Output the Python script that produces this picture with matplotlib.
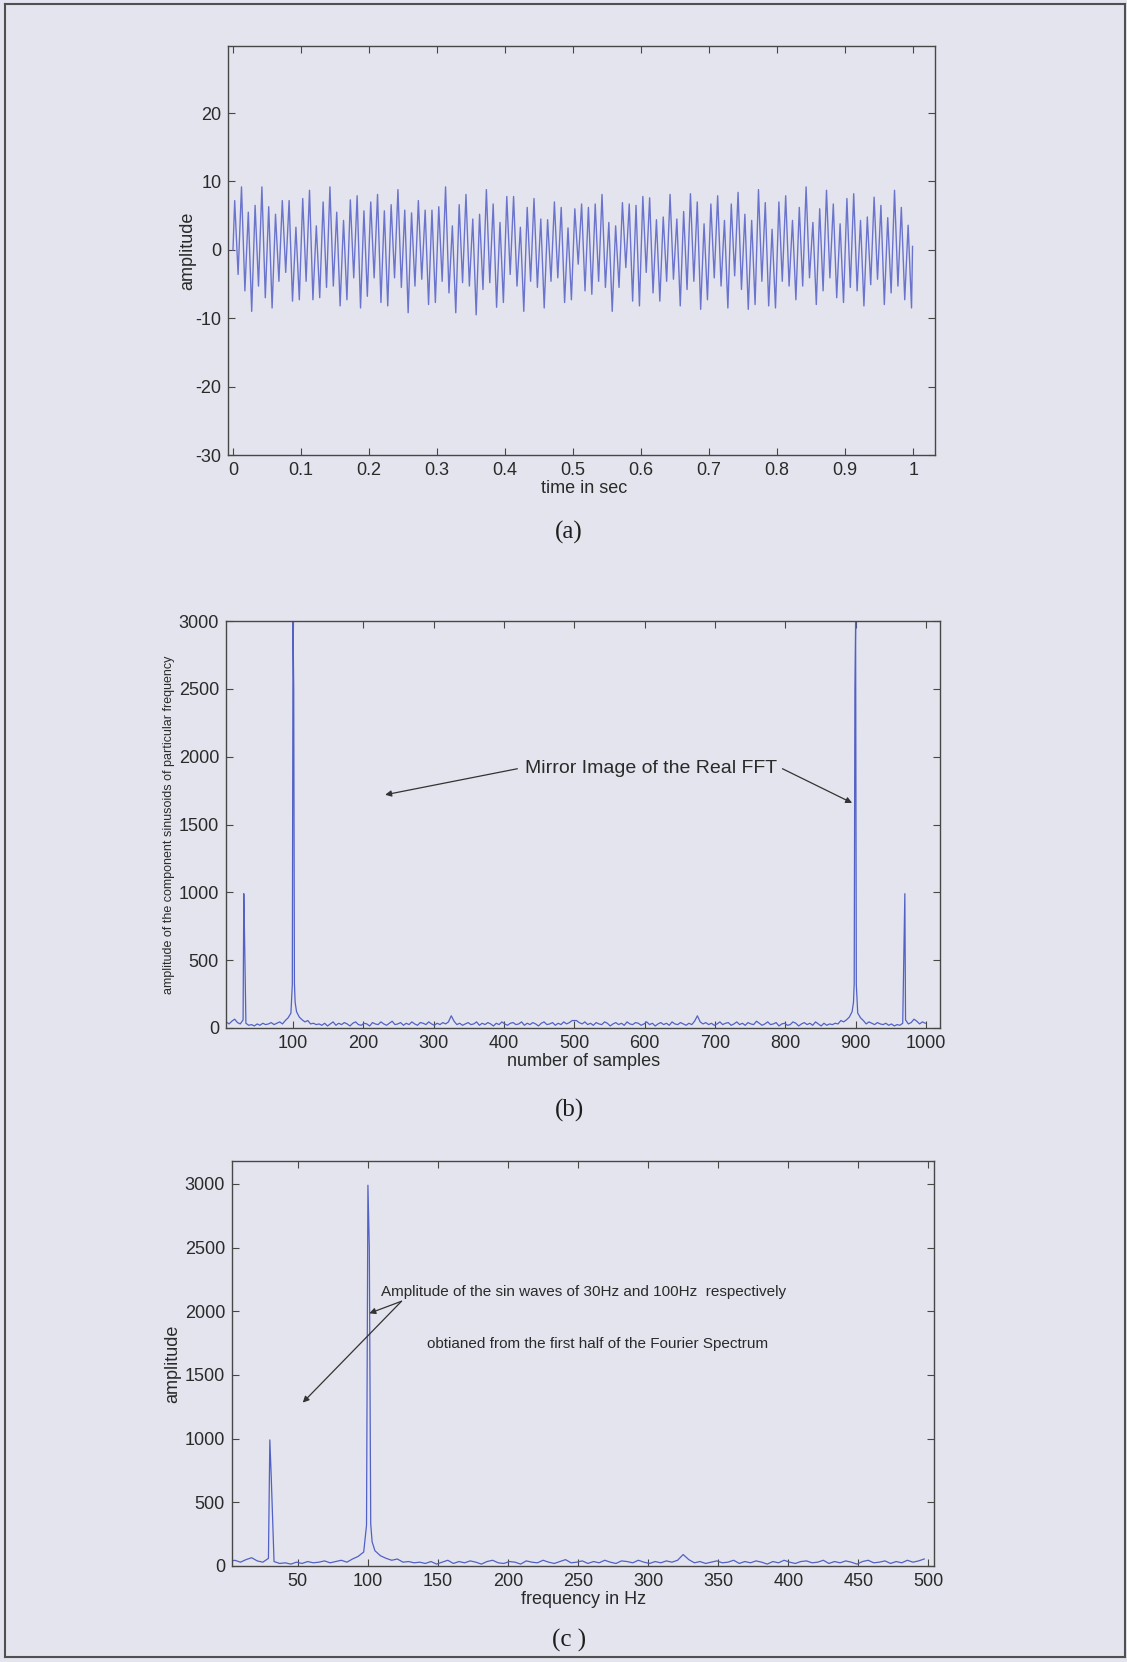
import numpy as np
import matplotlib.pyplot as plt
from matplotlib.lines import Line2D

plt.rcParams['font.family'] = ['Liberation Sans', 'DejaVu Sans']
plt.rcParams['axes.unicode_minus'] = False

# (a) time signal: peak and trough of each 10 ms cycle (100 cycles in 1 s)
peaks = [7.2, 9.2, 5.5, 6.5, 9.2, 6.3, 5.2, 7.2, 7.2, 3.3, 7.5, 8.7, 3.5, 7.0, 9.2, 5.5, 4.3, 7.3,
         7.9, 5.7, 7.0, 8.1, 5.7, 6.6, 8.8, 5.8, 5.4, 7.2, 5.8, 5.8, 6.3, 9.2, 3.5, 6.6, 8.1, 4.5,
         5.2, 8.8, 6.7, 4.0, 7.8, 7.8, 3.3, 6.2, 7.5, 4.5, 4.4, 7.0, 6.2, 3.2, 6.0, 6.7, 6.2, 6.7,
         8.1, 4.0, 3.5, 6.9, 6.7, 6.5, 7.8, 7.6, 4.4, 4.8, 8.1, 4.5, 5.6, 8.2, 7.0, 3.8, 6.7, 7.9,
         4.3, 6.7, 8.4, 5.2, 4.3, 8.8, 6.9, 3.0, 7.0, 7.9, 4.3, 6.2, 9.2, 4.0, 6.0, 8.7, 6.7, 3.8,
         7.5, 8.2, 4.3, 4.8, 7.7, 6.5, 4.7, 8.7, 6.2, 3.6]
troughs = [-3.6, -6.0, -9.0, -5.3, -7.0, -8.5, -4.6, -3.3, -7.5, -7.3, -4.6, -7.3, -7.0, -5.5, -5.3,
           -8.2, -7.3, -4.1, -8.5, -6.8, -4.1, -7.7, -8.2, -4.1, -5.5, -9.2, -5.3, -4.3, -8.0, -7.7,
           -4.6, -6.3, -9.2, -4.8, -5.3, -9.5, -5.8, -4.8, -8.4, -7.7, -3.6, -5.3, -9.0, -4.6, -5.5,
           -8.5, -4.6, -4.1, -7.7, -7.3, -2.1, -6.0, -6.5, -4.6, -5.5, -9.0, -5.5, -2.6, -7.5, -8.2,
           -3.3, -6.3, -7.5, -4.6, -4.3, -8.2, -5.8, -4.6, -8.7, -7.3, -4.1, -5.3, -8.5, -3.8, -5.8,
           -8.7, -8.0, -4.6, -8.2, -8.5, -4.6, -5.3, -7.3, -5.3, -4.1, -8.0, -6.0, -4.1, -7.0, -7.7,
           -5.5, -6.0, -8.2, -5.1, -4.3, -8.0, -6.3, -5.3, -7.3, -8.5]
end_value = 0.5

# one-sided spectrum: noise floor every 4 Hz plus the two peaks
noise_freq = np.arange(1, 500, 4)
noise_amp = [35, 45, 30, 50, 65, 40, 30, 60, 35, 20, 25, 15, 30, 20, 35, 25, 30, 40, 25, 35,
             45, 30, 55, 75, 110, 2500, 120, 80, 60, 45, 55, 30, 35, 25, 30, 20, 35, 15, 30, 45,
             20, 35, 25, 40, 30, 15, 35, 45, 25, 20, 35, 30, 15, 40, 30, 25, 45, 30, 20, 35,
             50, 25, 30, 40, 20, 35, 25, 45, 30, 20, 40, 35, 25, 45, 30, 20, 35, 25, 40, 30,
             45, 90, 50, 25, 35, 20, 30, 40, 25, 30, 45, 20, 35, 25, 40, 30, 15, 35, 25, 45,
             30, 20, 35, 40, 25, 30, 45, 20, 35, 25, 40, 30, 15, 35, 45, 25, 30, 40, 20, 35,
             25, 45, 30, 40, 55]
peak_freq = [30, 31, 99, 100, 102, 103]
peak_amp = [990, 700, 320, 2990, 330, 190]

N = 1000

t_peak = 0.0025 + 0.01 * np.arange(len(peaks))
t_trough = 0.0075 + 0.01 * np.arange(len(troughs))
t = np.concatenate([[0.0], np.column_stack([t_peak, t_trough]).ravel(), [0.999]])
sig = np.concatenate([[0.0], np.column_stack([peaks, troughs]).ravel(), [end_value]])

freq = np.concatenate([noise_freq, peak_freq])
amp = np.concatenate([noise_amp, peak_amp])
order = np.argsort(freq)
freq, amp = freq[order], amp[order]
# full spectrum = first half followed by its mirror image
samples = np.concatenate([freq, N - freq[::-1]])
full_amp = np.concatenate([amp, amp[::-1]])

bg = '#e4e4ee'
line_col = '#5161c6'
txt = '#2a2a2a'
W, H = 1127, 1662

fig = plt.figure(figsize=(W / 100, H / 100), dpi=100, facecolor=bg)


def px_axes(left, top, right, bottom):
    ax = fig.add_axes([left / W, 1 - bottom / H, (right - left) / W, (bottom - top) / H])
    ax.set_facecolor('none')
    for s in ax.spines.values():
        s.set_color('#474747')
        s.set_linewidth(1.0)
    ax.tick_params(direction='in', top=True, right=True, length=5, width=0.8,
                   color='#474747', labelcolor=txt, labelsize=13, pad=5)
    return ax


# (a)
ax1 = px_axes(228.5, 46, 935, 455)
ax1.plot(t, sig, color='#6b74cc', lw=1.0)
ax1.set_xlim(-0.0066, 1.032)
ax1.set_ylim(-30, 29.8)
ax1.set_xticks(np.arange(0, 1.01, 0.1))
ax1.set_xticklabels(['0', '0.1', '0.2', '0.3', '0.4', '0.5', '0.6', '0.7', '0.8', '0.9', '1'])
ax1.set_yticks([-30, -20, -10, 0, 10, 20])
ax1.set_xlabel('time in sec', fontsize=13, color=txt)
ax1.set_ylabel('amplitude', fontsize=13, color=txt)
ax1.xaxis.set_label_coords(0.503, -0.061)
ax1.yaxis.set_label_coords(-0.046, 0.5)

# (b)
ax2 = px_axes(226, 621, 940, 1028)
ax2.plot(samples, full_amp, color=line_col, lw=0.9)
ax2.set_xlim(4.7, 1020)
ax2.set_ylim(0, 3000)
ax2.set_xticks(np.arange(100, 1001, 100))
ax2.set_yticks(np.arange(0, 3001, 500))
ax2.set_xlabel('number of samples', fontsize=13, color=txt)
ax2.set_ylabel('amplitude of the component sinusoids of particular frequency', fontsize=9, color=txt)
ax2.xaxis.set_label_coords(0.501, -0.0614)
ax2.yaxis.set_label_coords(-0.0714, 0.5)
arrow = dict(arrowstyle='-|>', color='#333333', lw=0.9, mutation_scale=9, shrinkA=0, shrinkB=0)
ax2.text(430, 1911, 'Mirror Image of the Real FFT', fontsize=14, color=txt, va='center', ha='left')
ax2.annotate('', xy=(231, 1719), xytext=(419, 1911), arrowprops=arrow)
ax2.annotate('', xy=(895, 1659), xytext=(796, 1911), arrowprops=arrow)

# (c)
ax3 = px_axes(232, 1161, 934, 1566)
ax3.plot(freq, amp, color=line_col, lw=0.9)
ax3.set_xlim(3, 504)
ax3.set_ylim(0, 3180)
ax3.set_xticks(np.arange(50, 501, 50))
ax3.set_yticks(np.arange(0, 3001, 500))
ax3.set_xlabel('frequency in Hz', fontsize=13, color=txt)
ax3.set_ylabel('amplitude', fontsize=13, color=txt)
ax3.xaxis.set_label_coords(0.501, -0.0617)
ax3.yaxis.set_label_coords(-0.0726, 0.5)
ax3.text(109, 2150, 'Amplitude of the sin waves of 30Hz and 100Hz  respectively',
         fontsize=11, color=txt, va='center', ha='left')
ax3.text(142, 1740, 'obtianed from the first half of the Fourier Spectrum',
         fontsize=11, color=txt, va='center', ha='left')
ax3.annotate('', xy=(101, 1984), xytext=(124, 2079), arrowprops=arrow)
ax3.annotate('', xy=(53.5, 1283), xytext=(124, 2079), arrowprops=arrow)

# panel captions
for label, y in [('(a)', 532), ('(b)', 1110), ('(c )', 1640)]:
    fig.text(569 / W, 1 - y / H, label, fontsize=18, family='Liberation Serif',
             color='#1e1e1e', ha='center', va='center')

# scanned page border
border = dict(color='#505050', lw=1.5, transform=fig.transFigure)
fig.add_artist(Line2D([5 / W, 5 / W], [1 - 4 / H, 1 - 1657 / H], **border))
fig.add_artist(Line2D([5 / W, 1125 / W], [1 - 4 / H, 1 - 4 / H], **border))
fig.add_artist(Line2D([5 / W, 1125 / W], [1 - 1657 / H, 1 - 1657 / H], **border))
fig.add_artist(Line2D([1125 / W, 1125 / W], [1 - 4 / H, 1 - 1657 / H], **border))

fig.savefig('out.png', dpi=100, facecolor=bg)
